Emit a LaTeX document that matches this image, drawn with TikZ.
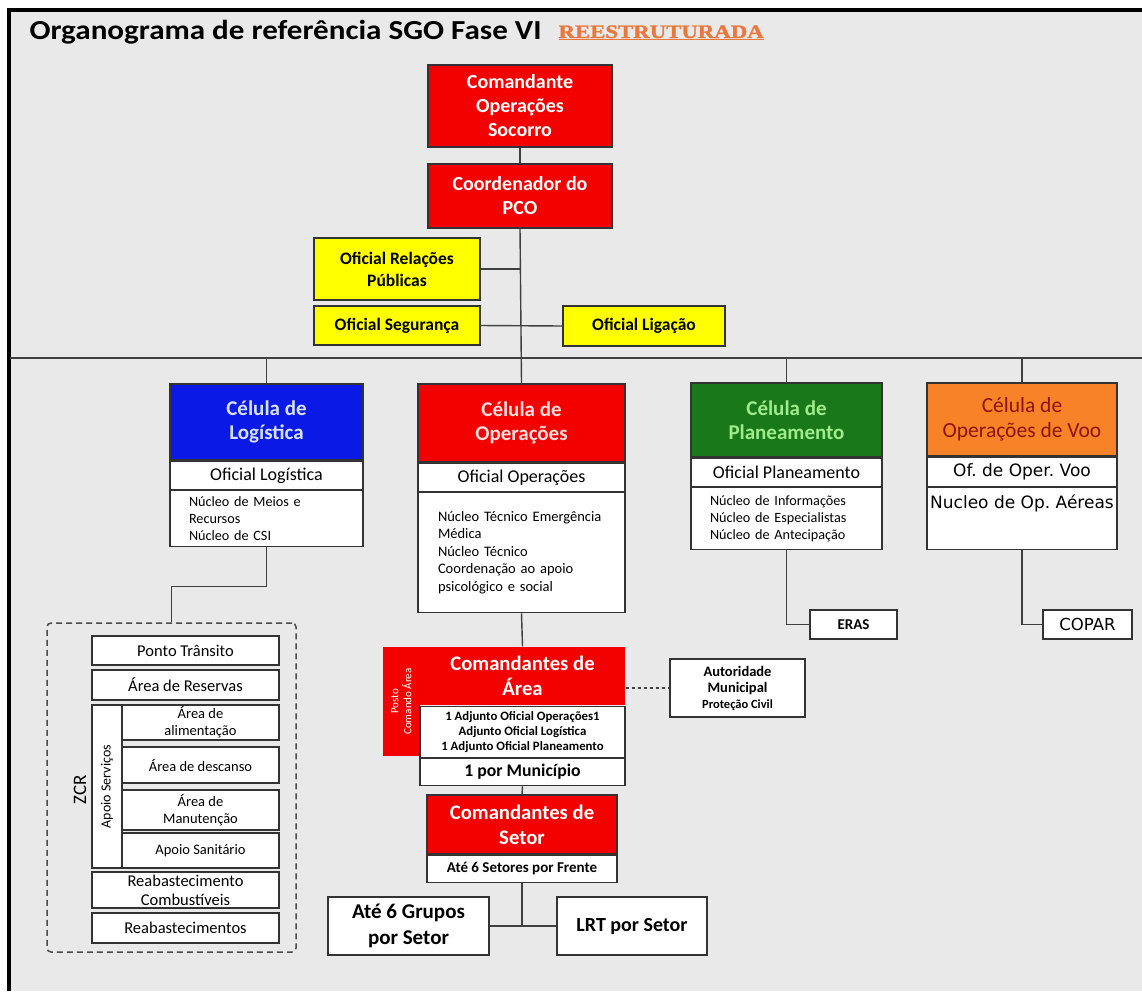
\documentclass[tikz,border=0pt]{standalone}
\usepackage{fontspec}
\setmainfont{Carlito}
\newfontfamily\verdana{DejaVu Sans}
\newfontfamily\titcarlito{Carlito}[FakeStretch=1.13]
\newfontfamily\titserif{Liberation Serif Bold}[FakeStretch=1.2, FakeBold=1.5]
\usetikzlibrary{calc, shapes, arrows}
\frenchspacing

\definecolor{fundo}{RGB}{233,233,233}
\definecolor{cvermelho}{RGB}{243,0,0}
\definecolor{camarelo}{RGB}{255,255,0}
\definecolor{cazul}{RGB}{10,25,230}
\definecolor{cverde}{RGB}{25,120,25}
\definecolor{claranja}{RGB}{248,130,40}
\definecolor{txtazul}{RGB}{215,225,255}
\definecolor{txtverde}{RGB}{160,235,140}
\definecolor{txtrosa}{RGB}{255,222,222}
\definecolor{txtvoo}{RGB}{140,20,0}
\definecolor{laranjatit}{RGB}{232,120,60}

\newcommand{\tam}[2]{\fontsize{#1}{#2}\selectfont}

\tikzset{
	caixa/.style={rectangle, draw=black!80, line width=1.3pt, fill=white, inner sep=0pt, align=center},
	vermelha/.style={caixa, fill=cvermelho, text=white, font=\bfseries\tam{20}{24}},
	amarela/.style={caixa, fill=camarelo, font=\bfseries\tam{17.5}{22}},
	liga/.style={-, line width=1.4pt, color=black!75},
}

\begin{document}
\begin{tikzpicture}[x=1pt, y=-1pt]
	
	\useasboundingbox (0,0) rectangle (1142,991);
	\fill[white] (0,0) rectangle (1142,991);
	\fill[fundo] (9,10) rectangle (1142,991);
	\draw[line width=4pt] (9,991) -- (9,10) -- (1142,10);
	
	\node[anchor=base west, font=\titcarlito\bfseries\tam{27.5}{30}] (titulo) at (26,39) {Organograma de referência SGO Fase VI};
	\node[anchor=base west, text=laranjatit, font=\titserif\tam{19}{22}] (reestr) at (555,38) {\underline{REESTRUTURADA}};
	
	% comando
	\node[vermelha, minimum width=184pt, minimum height=82pt] (comandante) at (520,106) {Comandante\\Operações\\Socorro};
	\node[vermelha, minimum width=184pt, minimum height=64pt] (coordenador) at (520,196) {Coordenador do\\PCO};
	
	\node[amarela, minimum width=166pt, minimum height=62pt] (relacoes) at (397,269) {Oficial Relações\\Públicas};
	\node[amarela, minimum width=166pt, minimum height=39pt] (seguranca) at (397,325.5) {Oficial Segurança};
	\node[amarela, minimum width=162pt, minimum height=40pt] (ligacao) at (644,326) {Oficial Ligação};
	
	\coordinate (busL) at (10,358);
	\coordinate (busR) at (1142,358);
	
	% celulas
	\node[caixa, fill=cazul, text=txtazul, font=\bfseries\tam{21}{24}, minimum width=193pt, minimum height=76pt] (celLog) at (266.5,422) {Célula de\\Logística};
	\node[caixa, minimum width=193pt, minimum height=28pt, anchor=north, font=\tam{18}{20}] (oficLog) at (celLog.south) {Oficial Logística};
	\node[caixa, minimum width=193pt, minimum height=56pt, anchor=north, text width=155pt, align=left, font=\tam{14.2}{17}] (listaLog) at (oficLog.south) {Núcleo de Meios e\\Recursos\\Núcleo de CSI};
	
	\node[caixa, fill=cvermelho, text=txtrosa, font=\bfseries\tam{21}{24}, minimum width=207pt, minimum height=78pt] (celOp) at (521.5,423) {Célula de\\Operações};
	\node[caixa, minimum width=207pt, minimum height=28pt, anchor=north, font=\tam{18}{20}] (oficOp) at (celOp.south) {Oficial Operações};
	\node[caixa, minimum width=207pt, minimum height=120pt, anchor=north, text width=167pt, align=left, font=\tam{14.5}{17.5}] (listaOp) at (oficOp.south) {Núcleo Técnico Emergência\\Médica\\Núcleo Técnico\\Coordenação ao apoio\\psicológico e social};
	
	\node[caixa, fill=cverde, text=txtverde, font=\bfseries\tam{21}{24}, minimum width=191pt, minimum height=74pt] (celPlan) at (786.5,420) {Célula de\\Planeamento};
	\node[caixa, minimum width=191pt, minimum height=28pt, anchor=north, font=\tam{18}{20}] (oficPlan) at (celPlan.south) {Oficial Planeamento};
	\node[caixa, minimum width=191pt, minimum height=62pt, anchor=north, text width=153pt, align=left, font=\tam{14.2}{17}] (listaPlan) at (oficPlan.south) {Núcleo de Informações\\Núcleo de Especialistas\\Núcleo de Antecipação};
	
	\node[caixa, fill=claranja, text=txtvoo, font=\tam{21.5}{25}, minimum width=190pt, minimum height=73pt] (celVoo) at (1022,419.5) {Célula de\\Operações de Voo};
	\node[caixa, minimum width=190pt, minimum height=29pt, anchor=north, font=\verdana\tam{17}{20}] (oficVoo) at (celVoo.south) {Of. de Oper. Voo};
	\node[caixa, minimum width=190pt, minimum height=62pt, anchor=north, font=\verdana\tam{17}{20}] (listaVoo) at (oficVoo.south) {Nucleo de Op. Aéreas\\[14pt]};
	
	\node[caixa, minimum width=87pt, minimum height=29pt, font=\bfseries\tam{15}{16}] (eras) at (853.5,624.5) {ERAS};
	\node[caixa, minimum width=89pt, minimum height=29pt, font=\verdana\tam{16.5}{20}] (copar) at (1087.5,624.5) {COPAR};
	
	% ZCR
	\node[rectangle, draw=black!70, line width=1.5pt, dash pattern=on 6pt off 4pt, rounded corners=4pt, minimum width=249pt, minimum height=329pt] (zcr) at (171.5,787.5) {};
	\node[rotate=90, font=\tam{19}{22}] (zcrTexto) at (80,790) {ZCR};
	\node[caixa, minimum width=187pt, minimum height=29pt, font=\tam{16.5}{18}] (ponto) at (185.5,650.5) {Ponto Trânsito};
	\node[caixa, minimum width=187pt, minimum height=30pt, font=\tam{16.5}{18}] (reservas) at (185.5,685) {Área de Reservas};
	\node[caixa, rotate=90, minimum width=163pt, minimum height=30pt, font=\tam{14}{16}] (apoio) at (107,786.5) {Apoio Serviços};
	\node[caixa, minimum width=157pt, minimum height=35pt, font=\tam{14.5}{17}] (alimentacao) at (200.5,722.5) {Área de\\alimentação};
	\node[caixa, minimum width=157pt, minimum height=36pt, font=\tam{14.5}{17}] (descanso) at (200.5,765) {Área de descanso};
	\node[caixa, minimum width=157pt, minimum height=40pt, font=\tam{14.5}{17}] (manutencao) at (200.5,810) {Área de\\Manutenção};
	\node[caixa, minimum width=157pt, minimum height=35pt, font=\tam{14.5}{17}] (sanitario) at (200.5,850.5) {Apoio Sanitário};
	\node[caixa, minimum width=187pt, minimum height=36pt, font=\tam{16.5}{19}] (combustiveis) at (185.5,890) {Reabastecimento\\Combustíveis};
	\node[caixa, minimum width=187pt, minimum height=30pt, font=\tam{16.5}{18}] (reabast) at (185.5,928) {Reabastecimentos};
	
	% comandantes de area e setor
	\node[rectangle, fill=cvermelho, rotate=90, inner sep=0pt, minimum width=109pt, minimum height=37pt, text=white, align=center, font=\tam{11}{13}] (posto) at (401.5,701.5) {Posto\\Comando Área};
	\node[caixa, draw=none, fill=cvermelho, text=white, font=\bfseries\tam{20.7}{25}, minimum width=205pt, minimum height=58pt] (cmdArea) at (522.5,676) {Comandantes de\\Área};
	\node[caixa, minimum width=205pt, minimum height=51pt, anchor=north, font=\bfseries\tam{12.8}{15}] (adjuntos) at (cmdArea.south) {1 Adjunto Oficial Operações1\\Adjunto Oficial Logística\\1 Adjunto Oficial Planeamento};
	\node[caixa, minimum width=205pt, minimum height=27pt, anchor=north, font=\bfseries\tam{17.7}{20}] (municipio) at (adjuntos.south) {1 por Município};
	
	\node[caixa, minimum width=135pt, minimum height=58pt, font=\bfseries\tam{14.5}{16}] (autoridade) at (737.5,688) {Autoridade\\Municipal\\{\tam{12.5}{14}Proteção Civil}};
	
	\node[vermelha, font=\bfseries\tam{20.7}{25}, minimum width=190pt, minimum height=59pt] (cmdSetor) at (522,824.5) {Comandantes de\\Setor};
	\node[caixa, minimum width=190pt, minimum height=27pt, anchor=north, font=\bfseries\tam{15}{16}] (setorInfo) at (cmdSetor.south) {Até 6 Setores por Frente};
	
	\node[caixa, minimum width=161pt, minimum height=58pt, font=\bfseries\tam{21}{26}] (grupos) at (408.5,926) {Até 6 Grupos\\por Setor};
	\node[caixa, minimum width=150pt, minimum height=58pt, font=\bfseries\tam{20}{24}] (lrt) at (632,926) {LRT por Setor};
	
	% ligacoes
	\draw[liga] (comandante.south) -- (coordenador.north);
	\draw[liga] (coordenador.south) -- (celOp.north);
	\draw[liga] (relacoes.east) -- (relacoes.east -| coordenador.south);
	\draw[liga] (seguranca.east) -- (ligacao.west);
	\draw[liga] (busL) -- (busR);
	\draw[liga] (celLog.north) -- (celLog.north |- busL);
	\draw[liga] (celPlan.north) -- (celPlan.north |- busL);
	\draw[liga] (celVoo.north) -- (celVoo.north |- busL);
	
	\draw[liga] (listaLog.south) -- ++(0,39) -| (zcr.north);
	\draw[liga] (listaPlan.south) |- (eras.west);
	\draw[liga] (listaVoo.south) |- (copar.west);
	
	\draw[liga] (listaOp.south) -- (cmdArea.north);
	\draw[liga, dashed] (cmdArea.east |- autoridade.west) -- (autoridade.west);
	\draw[liga] (municipio.south) -- (cmdSetor.north);
	\draw[liga] (setorInfo.south) -- (setorInfo.south |- grupos.east);
	\draw[liga] (grupos.east) -- (lrt.west);
	
\end{tikzpicture}
\end{document}
